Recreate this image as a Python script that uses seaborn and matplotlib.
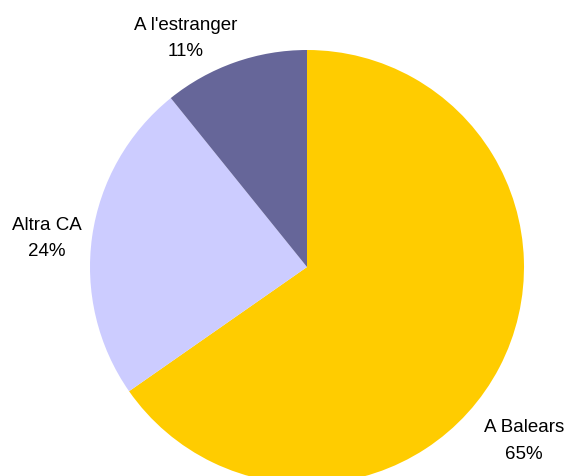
import matplotlib
matplotlib.use("Agg")
import matplotlib.pyplot as plt
import seaborn as sns

categories = ["A Balears", "Altra CA", "A l'estranger"]
values = [65.3, 23.9, 10.8]
colors = ["#FFCC00", "#CCCCFF", "#666699"]

sns.set_theme(style="white")
plt.rcParams['font.family'] = ['Liberation Sans', 'DejaVu Sans']

W, H = 567, 477
fig = plt.figure(figsize=(W / 100, H / 100), dpi=100)
ax = fig.add_axes([0, 0, 1, 1])

cx, cy, r = 307, H - 268, 217
ax.pie(values, colors=colors, startangle=90, counterclock=False,
       center=(cx, cy), radius=r, frame=True,
       wedgeprops=dict(linewidth=0))
ax.set_xlim(0, W)
ax.set_ylim(0, H)
ax.set_aspect("equal")
ax.axis("off")

label_pos = [(524, H - 441), (47, H - 238.5), (186, H - 38.5)]
total = sum(values)
for name, v, (x, y) in zip(categories, values, label_pos):
    ax.text(x, y, f"{name}\n{round(v / total * 100)}%", ha="center", va="center",
            fontsize=13.5, color="black", linespacing=1.75)

fig.savefig("out.png", dpi=100)
